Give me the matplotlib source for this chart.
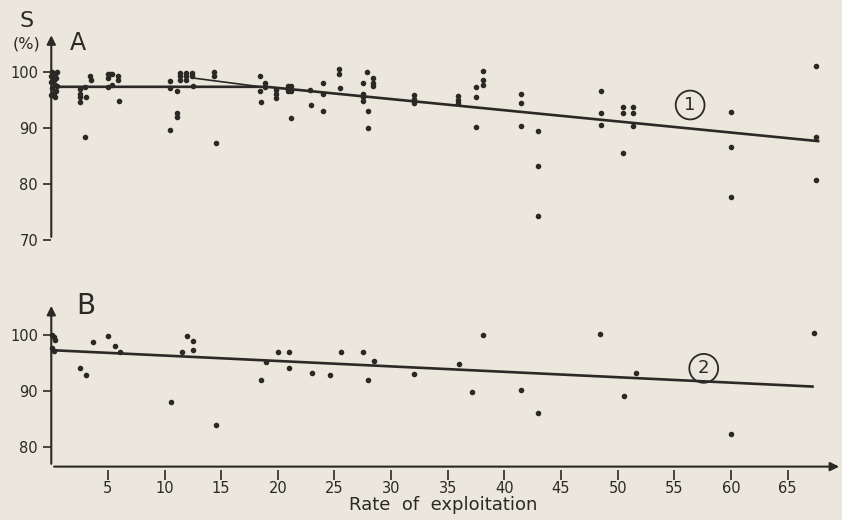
import matplotlib.pyplot as plt

# panel A: survival (%) against rate of exploitation
a_rate = [0.1, 0.3, 0.0, 0.4, 0.2, 0.0, 0.3, 0.1, 0.4, 0.2, 0.0, 0.3, 0.5, 0.5,
          2.5, 2.5, 2.5, 2.5, 3.1, 3.0, 3.0, 3.4, 3.5,
          5.0, 5.2, 5.4, 5.9, 5.9, 5.0, 5.0, 5.4, 6.0,
          10.5, 10.5, 11.1, 11.1, 11.1, 10.5,
          11.4, 11.4, 11.4, 11.9, 11.9, 11.9, 12.4, 12.4, 12.5,
          14.4, 14.4, 14.5,
          18.4, 18.4, 18.9, 18.9, 18.5, 19.8, 19.8, 19.8,
          20.9, 20.9, 21.2, 21.2, 21.2, 22.8, 22.9,
          24.0, 24.0, 24.0, 25.4, 25.4, 25.5,
          27.5, 27.5, 27.5, 27.5, 27.9, 28.4, 28.4, 28.4, 28.0, 28.0,
          32.0, 32.0, 32.0, 35.9, 35.9, 35.9,
          37.5, 37.5, 38.1, 38.1, 38.1, 37.5,
          41.5, 41.5, 41.5, 43.0, 43.0, 43.0,
          48.5, 48.5, 48.5, 50.5, 50.5, 50.5, 51.4, 51.4, 51.4,
          60.0, 60.0, 60.0, 67.5, 67.5, 67.5]
a_surv = [100.0, 99.6, 99.2, 98.9, 98.5, 98.1, 97.7, 97.0, 96.6, 96.2, 95.8, 95.4, 99.9, 97.4,
          96.9, 96.1, 95.4, 94.6, 95.4, 88.3, 97.3, 99.3, 98.6,
          99.6, 99.6, 99.6, 99.2, 98.5, 98.8, 97.2, 97.6, 94.8,
          98.4, 97.0, 96.5, 92.6, 91.9, 89.6,
          99.8, 99.2, 98.5, 99.8, 99.2, 98.5, 99.7, 99.2, 97.4,
          100.0, 99.2, 87.2,
          99.3, 96.6, 98.0, 97.3, 94.6, 96.7, 96.0, 95.3,
          97.4, 96.6, 97.4, 96.6, 91.7, 96.7, 94.1,
          97.9, 96.1, 92.9, 100.4, 99.6, 97.0,
          98.0, 96.1, 95.4, 94.8, 100.0, 98.8, 98.0, 97.4, 92.9, 89.9,
          95.8, 95.1, 94.4, 95.7, 95.0, 94.4,
          97.3, 95.4, 100.2, 98.5, 97.7, 90.2,
          96.1, 94.4, 90.3, 89.4, 83.2, 74.3,
          96.5, 92.6, 90.4, 93.7, 92.6, 85.4, 93.7, 92.6, 90.3,
          92.75, 86.5, 77.6, 101.0, 88.4, 80.7]

# panel B
b_rate = [0.1, 0.3, 0.2, 0.1, 0.2,
          2.5, 3.1, 3.65, 5.0, 5.6, 6.1,
          10.6, 11.5, 12.0, 12.5, 12.5, 14.5,
          18.5, 19.0, 20.0, 21.0, 21.0,
          23.0, 24.6, 25.6, 27.5, 28.5, 28.0,
          32.0, 36.0, 37.1, 38.1, 41.5, 43.0,
          48.4, 51.6, 50.6, 60.0, 67.3]
b_surv = [100.0, 99.2, 99.6, 97.6, 97.1,
          94.05, 92.9, 98.8, 99.9, 98.1, 97.0,
          88.0, 96.9, 99.8, 98.9, 97.3, 83.9,
          92.0, 95.1, 97.0, 97.0, 94.2,
          93.3, 92.9, 96.9, 96.9, 95.4, 92.0,
          93.1, 94.9, 89.8, 100.05, 90.2, 86.1,
          100.2, 93.3, 89.2, 82.3, 100.4]

# fitted lines
fit1_x = [0, 19, 67.7]
fit1_y = [97.3, 97.3, 87.6]
branch_x = [12.4, 18.5]
branch_y = [98.9, 97.3]
fit2_x = [0, 67.2]
fit2_y = [97.3, 90.8]

xticks = [5, 10, 15, 20, 25, 30, 35, 40, 45, 50, 55, 60, 65]

paper = '#ebe7dc'
ink = '#2b2925'

fig = plt.figure(figsize=(8.42, 5.2), dpi=100, facecolor=paper)
axA = fig.add_axes([0.0609, 0.5175, 0.939, 0.4308])
axB = fig.add_axes([0.0609, 0.0865, 0.939, 0.3446])

for ax in (axA, axB):
    ax.set_facecolor('none')
    ax.set_xlim(0, 69.8)
    for s in ax.spines.values():
        s.set_visible(False)
    ax.tick_params(colors=ink, labelsize=10.5, width=1.2, length=6)

axA.set_ylim(68, 108)
axB.set_ylim(75, 107)

# panel A
axA.annotate('', xy=(0, 107), xytext=(0, 70),
             arrowprops=dict(arrowstyle='-|>', lw=1.5, color=ink, mutation_scale=13))
axA.set_yticks([70, 80, 90, 100])
axA.set_xticks([])
axA.plot(a_rate, a_surv, 'o', ms=3.0, color=ink, clip_on=False)
axA.plot(fit1_x, fit1_y, color=ink, lw=1.9)
axA.plot(branch_x, branch_y, color=ink, lw=1.2)
axA.text(2.36, 105.1, 'A', fontsize=17, color=ink, va='center', ha='center')
axA.text(56.4, 94.05, '1', fontsize=13, color=ink, va='center', ha='center',
         bbox=dict(boxstyle='circle,pad=0.3', fc='none', ec=ink, lw=1.3))

# panel B
axB.annotate('', xy=(0, 105.7), xytext=(0, 76.5),
             arrowprops=dict(arrowstyle='-|>', lw=1.5, color=ink, mutation_scale=13))
axB.annotate('', xy=(69.8, 76.5), xytext=(0, 76.5),
             arrowprops=dict(arrowstyle='-|>', lw=1.5, color=ink, mutation_scale=13))
axB.set_yticks([80, 90, 100])
axB.set_xticks(xticks)
axB.tick_params(axis='x', direction='inout', length=7, pad=1)
axB.plot(b_rate, b_surv, 'o', ms=3.0, color=ink, clip_on=False)
axB.plot(fit2_x, fit2_y, color=ink, lw=1.9)
axB.text(3.06, 105.2, 'B', fontsize=20, color=ink, va='center', ha='center')
axB.text(57.6, 94.05, '2', fontsize=13, color=ink, va='center', ha='center',
         bbox=dict(boxstyle='circle,pad=0.3', fc='none', ec=ink, lw=1.3))

fig.text(443 / 842, 1 - 505 / 520, 'Rate  of  exploitation', fontsize=13, color=ink,
         ha='center', va='center')
fig.text(27 / 842, 1 - 21 / 520, 'S', fontsize=16, color=ink, ha='center', va='center')
fig.text(26 / 842, 1 - 44 / 520, '(%)', fontsize=11.5, color=ink, ha='center', va='center')

fig.savefig('out.png', dpi=100, facecolor=paper)
